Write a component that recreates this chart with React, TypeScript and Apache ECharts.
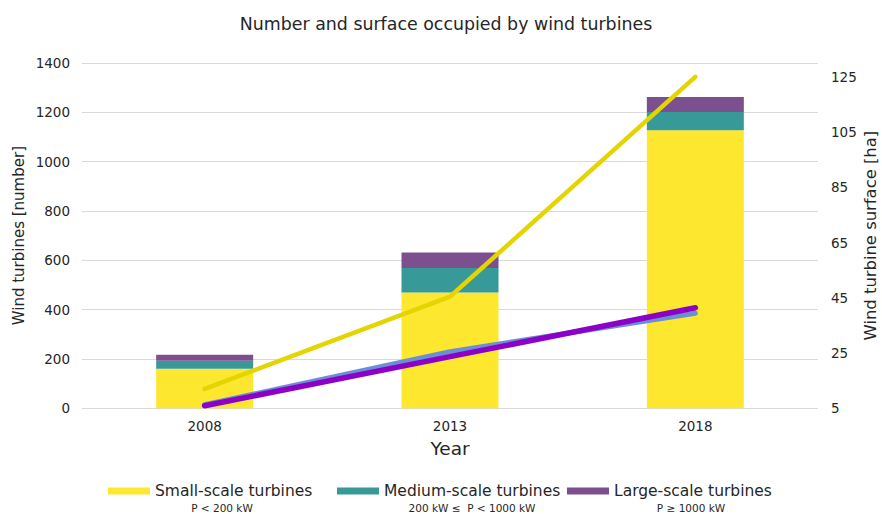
import React, { useEffect, useRef } from "react";
import * as echarts from "echarts";

// Survey years on the category axis
const years = ["2008", "2013", "2018"];

// Number of turbines per size class (left axis, stacked bars)
const smallCount = [160, 470, 1127];
const mediumCount = [33, 99, 74];
const largeCount = [24, 63, 61];

// Surface occupied, in hectares (right axis, lines)
const smallSurface = [12, 45.4, 125];
const mediumSurface = [6.3, 25.5, 39.4];
const largeSurface = [5.9, 23.7, 41.4];

// Axis scales
const countMin = 0;
const countMax = 1400;
const countStep = 200;
const surfaceMin = 5;
const surfaceMax = 130;
const surfaceStep = 20;

// Legend entries and the power range written under each
const legendNames = ["Small-scale turbines", "Medium-scale turbines", "Large-scale turbines"];
const legendNotes = ["P < 200 kW", "200 kW \u2264  P < 1000 kW", "P \u2265 1000 kW"];

const FONT = "'DejaVu Sans', 'Liberation Sans', sans-serif";
const INK = "#262626";
const GRID_GRAY = "#d9d9d9";

const BAR_COLORS = ["#fde72f", "#389a98", "#7c4f8e"];
const LINE_COLORS = { small: "#e4d500", medium: "#6b8fd4", large: "#8c00c8" };

const legendLeft = [108, 337, 567];
const noteCenter = [222, 472, 691];

export default function App() {
  const ref = useRef<HTMLDivElement>(null);

  useEffect(() => {
    if (!ref.current) return;
    const chart = echarts.init(ref.current, undefined, { renderer: "svg" });

    const barSeries = [smallCount, mediumCount, largeCount].map((data, i) => ({
      name: legendNames[i],
      type: "bar",
      stack: "count",
      data,
      barWidth: 97,
      itemStyle: { color: BAR_COLORS[i] },
      z: 2,
    }));

    const lineSeries = [
      { name: "Medium-scale surface", data: mediumSurface, color: LINE_COLORS.medium, width: 5 },
      { name: "Large-scale surface", data: largeSurface, color: LINE_COLORS.large, width: 5.5 },
      { name: "Small-scale surface", data: smallSurface, color: LINE_COLORS.small, width: 4.5 },
    ].map((s) => ({
      name: s.name,
      type: "line",
      yAxisIndex: 1,
      data: s.data,
      symbol: "none",
      lineStyle: { color: s.color, width: s.width, cap: "round" },
      itemStyle: { color: s.color },
      z: 3,
    }));

    const option: any = {
      animation: false,
      backgroundColor: "#ffffff",
      textStyle: { fontFamily: FONT },
      title: {
        text: "Number and surface occupied by wind turbines",
        left: 446,
        top: 15.5,
        textAlign: "center",
        padding: 0,
        textStyle: { fontSize: 17.4, fontWeight: "normal", color: INK, fontFamily: FONT },
      },
      grid: { left: 82, right: 64, top: 63, bottom: 105.7, containLabel: false, outerBoundsMode: "none" },
      legend: legendNames.map((name, i) => ({
        data: [name],
        left: legendLeft[i],
        top: 483,
        padding: 0,
        itemWidth: 42,
        itemHeight: 7,
        icon: "rect",
        selectedMode: false,
        textStyle: { fontSize: 15.5, color: INK, fontFamily: FONT },
      })),
      xAxis: {
        type: "category",
        data: years,
        name: "Year",
        nameLocation: "middle",
        nameGap: 31,
        nameTextStyle: { fontSize: 18.5, color: INK, fontFamily: FONT },
        axisLine: { show: false },
        axisTick: { show: false },
        axisLabel: { fontSize: 13.5, color: INK, margin: 11, fontFamily: FONT },
      },
      yAxis: [
        {
          type: "value",
          position: "left",
          min: countMin,
          max: countMax,
          interval: countStep,
          name: "Wind turbines [number]",
          nameLocation: "middle",
          nameGap: 56,
          nameMoveOverlap: false,
          nameTextStyle: { fontSize: 15, color: INK, fontFamily: FONT },
          axisLine: { show: false },
          axisTick: { show: false },
          axisLabel: {
            fontSize: 13.5,
            color: INK,
            margin: 12,
            fontFamily: FONT,
            formatter: (v: number) => String(v),
          },
          splitLine: { show: true, lineStyle: { color: GRID_GRAY, width: 1 } },
        },
        {
          type: "value",
          position: "right",
          min: surfaceMin,
          max: surfaceMax,
          interval: surfaceStep,
          name: "Wind turbine surface [ha]",
          nameLocation: "middle",
          nameGap: 44,
          nameRotate: 90,
          nameMoveOverlap: false,
          nameTextStyle: { fontSize: 16.4, color: INK, fontFamily: FONT },
          axisLine: { show: false },
          axisTick: { show: false },
          axisLabel: {
            fontSize: 13.5,
            color: INK,
            margin: 13,
            showMaxLabel: false,
            fontFamily: FONT,
            formatter: (v: number) => String(v),
          },
          splitLine: { show: false },
        },
      ],
      series: [...barSeries, ...lineSeries],
      graphic: legendNotes.map((note, i) => ({
        type: "text",
        x: noteCenter[i],
        y: 513,
        silent: true,
        style: {
          text: note,
          fill: INK,
          font: `10.5px ${FONT}`,
          textAlign: "center",
          textVerticalAlign: "bottom",
        },
      })),
    };

    chart.setOption(option);
    return () => chart.dispose();
  }, []);

  return (
    <div
      ref={ref}
      style={{ position: "fixed", left: 0, top: 0, width: 882, height: 514, background: "#ffffff" }}
    />
  );
}
